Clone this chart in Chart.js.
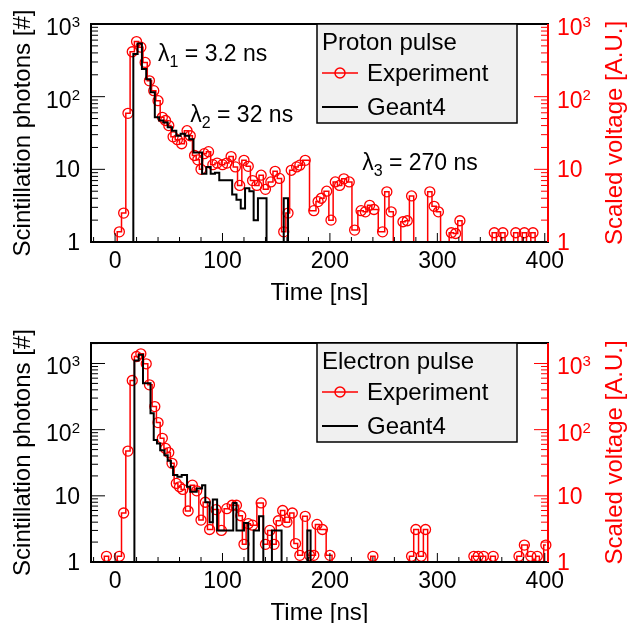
<!DOCTYPE html>
<html>
<head>
<meta charset="utf-8">
<title>Scintillation pulses</title>
<script src="https://cdn.jsdelivr.net/npm/chart.js@4.4.1/dist/chart.umd.min.js"></script>
<style>
  body { margin: 0; background: #fff; }
  .pane { position: absolute; left: 0; width: 630px; }
</style>
</head>
<body>
<div class="pane" style="top:0;height:311px"><canvas id="proton"></canvas></div>
<div class="pane" style="top:311px;height:312px"><canvas id="electron"></canvas></div>
<script>
// values, 0 = empty bin (below the log axis)
var protonExpTime = [-4, 0, 4, 8, 12, 16, 20, 24, 28, 32, 36, 40, 44, 47, 50, 54, 58, 62, 67, 70,
  74, 77, 80, 83, 87, 91, 95, 100, 104, 108, 112, 116, 120, 124, 128, 132, 136, 140, 145, 149,
  153, 157, 161, 164, 169, 172, 177, 185, 189, 192, 197, 201, 205, 209, 213, 218, 223, 229, 233, 237,
  241, 249, 253, 257, 261, 264, 268, 272, 276, 280, 289, 293, 297, 301, 305, 309, 313, 317, 321, 325,
  349, 353, 357, 361, 365, 369, 373, 377, 381, 385, 389, 393, 400];
var protonExpVal = [0, 0, 1.38, 2.5, 59, 415, 573, 480, 296, 165, 121, 88, 52, 47, 40, 28, 25.6, 22.5, 34, 29,
  15.5, 13.5, 10, 16.4, 17.5, 11.6, 12.2, 11.6, 12.2, 15, 10.8, 6, 13.3, 11, 7, 6, 8.3, 5.3, 6.7, 9.4,
  7.5, 1.38, 2.5, 9.7, 10.8, 11.4, 13.3, 2.7, 3.6, 4, 5, 2, 6.7, 6, 7.4, 6.7, 1.46, 2.7, 2.6, 3.2,
  2.8, 1.38, 4.9, 2.6, 0, 0, 1.9, 1.96, 4.3, 0, 0, 4.9, 3.1, 2.6, 0, 0, 1.34, 1.31, 1.96, 0,
  0, 1.34, 0, 1.34, 0, 0, 1.34, 0, 1.34, 0, 1.34, 0, 0];

// Geant4 histogram: bin lower edges and contents
var protonSimEdge = [13, 17, 21, 25, 29, 33, 37, 41, 45, 49, 53, 57, 61, 65, 69, 73, 77, 81, 85, 89,
  93, 97, 101, 105, 109, 113, 117, 121, 125, 129, 133, 137, 141, 157, 161, 165];
var protonSimVal = [0, 385, 537, 240, 174, 115, 52, 47, 44, 38, 34, 29, 31, 29, 26, 17, 17, 8.7, 10.8, 8.7,
  9, 7.1, 7.1, 7.1, 4.5, 3.8, 2.9, 5.5, 5, 2, 4, 4, 0, 4, 0, 0];

var electronExpTime = [-12, -8, -4, 0, 4, 8, 12, 16, 20, 24, 29, 32, 37, 40, 44, 47, 50, 53, 57, 60,
  63, 68, 72, 76, 80, 84, 88, 94, 99, 104, 109, 113, 117, 120, 124, 128, 136, 140, 144, 148,
  152, 156, 160, 165, 168, 172, 177, 181, 185, 188, 193, 200, 204, 236, 240, 244, 272, 276, 280, 285,
  289, 293, 330, 334, 338, 343, 347, 352, 356, 372, 376, 381, 387, 390, 393, 397, 401];
var electronExpVal = [0, 1.22, 0, 0, 1.22, 5.5, 47.5, 553, 1276, 1400, 990, 476, 223, 128, 74, 52, 45, 31, 15.4, 13.7,
  12.5, 5.9, 14.5, 11.9, 4.3, 8, 3.1, 6.2, 3, 6.4, 7.2, 7.2, 5, 1.85, 3.8, 3.6, 7.8, 1.85, 3, 1.85,
  4.2, 6, 4, 5.5, 1.9, 1.26, 4.9, 1.26, 1.26, 3.7, 3.1, 1.26, 0, 0, 1.22, 0, 0, 1.22, 3.1, 1.22,
  3.1, 0, 0, 1.22, 1.22, 1.22, 0, 1.22, 0, 0, 1.22, 1.8, 1.22, 0, 1.22, 0, 1.8];

var electronSimEdge = [14, 18, 22, 26, 33, 36, 39, 42, 46, 49, 52, 54, 58, 62, 67, 70, 76, 81, 84, 88,
  91, 95, 110, 113, 120, 124, 129, 134, 138, 146, 155, 179, 182, 190];
var electronSimVal = [0, 1110, 1350, 504, 177, 70, 62, 49, 41, 34, 27.5, 20.6, 19.4, 20.6, 13.7, 11.5, 12.9, 14.5, 8, 4,
  8.8, 3, 7.8, 3, 3.9, 0, 3, 4.9, 0, 3, 0, 3, 0, 0];

var timeTicks = [0, 100, 200, 300, 400];
var decadeTicks = [1, 10, 100, 1000];

var FONT = '"Liberation Sans", Arial, sans-serif';
var RED = '#ff0000';

function toPoints(times, values) {
  return times.map(function (t, i) {
    return { x: t, y: values[i] > 0 ? values[i] : 0.1 };
  });
}

function seg(ctx, x1, y1, x2, y2) {
  ctx.beginPath();
  ctx.moveTo(x1, y1);
  ctx.lineTo(x2, y2);
  ctx.stroke();
}

// "1", "10", "10^n" tick labels
function powLabel(ctx, v, x, y, align) {
  var e = Math.round(Math.log10(v));
  ctx.textBaseline = 'alphabetic';
  ctx.font = '23px ' + FONT;
  if (e <= 1) {
    ctx.textAlign = align;
    ctx.fillText(String(v), x, y + 8);
    return;
  }
  var wb = ctx.measureText('10').width;
  ctx.font = '15px ' + FONT;
  var ws = ctx.measureText(String(e)).width;
  var x0 = align === 'right' ? x - wb - ws : x;
  ctx.textAlign = 'left';
  ctx.font = '23px ' + FONT;
  ctx.fillText('10', x0, y + 11);
  ctx.font = '15px ' + FONT;
  ctx.fillText(String(e), x0 + wb, y + 3);
}

function decor(cfg) {
  return {
    id: 'decor',
    afterDatasetsDraw: function (chart) {
      var ctx = chart.ctx, a = chart.chartArea;
      var sx = chart.scales.x, sy = chart.scales.y;
      ctx.save();

      // tick marks, drawn inside the frame
      ctx.lineWidth = 1;
      ctx.strokeStyle = '#000';
      for (var t = -20; t <= 400; t += 20) {
        var px = sx.getPixelForValue(t);
        if (px <= a.left || px >= a.right) continue;
        seg(ctx, px, a.bottom, px, a.bottom - (t % 100 === 0 ? 9 : 5));
      }
      for (var d = 1; d <= 1000; d *= 10) {
        for (var m = 1; m < 10; m++) {
          var v = d * m;
          if (v > sy.max) continue;
          var py = sy.getPixelForValue(v);
          var len = m === 1 ? 14 : 7;
          ctx.strokeStyle = '#000';
          seg(ctx, a.left, py, a.left + len, py);
          ctx.strokeStyle = RED;
          seg(ctx, a.right, py, a.right - len, py);
        }
      }

      // frame
      ctx.lineWidth = 2;
      ctx.strokeStyle = '#000';
      ctx.strokeRect(a.left, a.top, a.right - a.left, a.bottom - a.top);
      ctx.strokeStyle = RED;
      seg(ctx, a.right, a.top, a.right, a.bottom);

      // tick labels
      ctx.fillStyle = '#000';
      decadeTicks.forEach(function (v) {
        if (v <= sy.max) powLabel(ctx, v, a.left - 11, sy.getPixelForValue(v), 'right');
      });
      ctx.fillStyle = RED;
      decadeTicks.forEach(function (v) {
        if (v <= sy.max) powLabel(ctx, v, a.right + 9, sy.getPixelForValue(v), 'left');
      });
      ctx.fillStyle = '#000';
      ctx.font = '23px ' + FONT;
      ctx.textAlign = 'center';
      timeTicks.forEach(function (t) {
        ctx.fillText(String(t), sx.getPixelForValue(t), a.bottom + 26);
      });

      // axis titles
      ctx.font = '24px ' + FONT;
      ctx.fillText('Time [ns]', (a.left + a.right) / 2, a.bottom + 58);
      var cy = (a.top + a.bottom) / 2;
      ctx.save();
      ctx.translate(30, cy);
      ctx.rotate(-Math.PI / 2);
      ctx.fillText('Scintillation photons [#]', 0, 0);
      ctx.restore();
      ctx.save();
      ctx.fillStyle = RED;
      ctx.translate(622, cy);
      ctx.rotate(-Math.PI / 2);
      ctx.fillText('Scaled voltage [A.U.]', 0, 0);
      ctx.restore();

      // decay-constant notes
      ctx.textAlign = 'left';
      (cfg.notes || []).forEach(function (n) {
        var x = sx.getPixelForValue(n.t), y = sy.getPixelForValue(n.v);
        ctx.font = '23px ' + FONT;
        ctx.fillText('\u03bb', x, y);
        x += ctx.measureText('\u03bb').width;
        ctx.font = '16px ' + FONT;
        ctx.fillText(n.sub, x, y + 6);
        x += ctx.measureText(n.sub).width;
        ctx.font = '23px ' + FONT;
        ctx.fillText(n.text, x, y);
      });

      // legend box
      var lx = 317, lw = 200, lt = a.top, lh = 99;
      ctx.fillStyle = '#f0f0f0';
      ctx.fillRect(lx, lt, lw, lh);
      ctx.lineWidth = 1.5;
      ctx.strokeStyle = '#000';
      ctx.strokeRect(lx, lt, lw, lh);
      ctx.fillStyle = '#000';
      ctx.font = '24px ' + FONT;
      ctx.fillText(cfg.title, lx + 5, lt + 26);
      ctx.fillText('Experiment', lx + 50, lt + 57);
      ctx.fillText('Geant4', lx + 50, lt + 91);
      ctx.strokeStyle = RED;
      ctx.lineWidth = 1.5;
      seg(ctx, lx + 5, lt + 49, lx + 41, lt + 49);
      ctx.beginPath();
      ctx.arc(lx + 23, lt + 49, 5, 0, Math.PI * 2);
      ctx.stroke();
      ctx.strokeStyle = '#000';
      ctx.lineWidth = 2;
      seg(ctx, lx + 5, lt + 83, lx + 41, lt + 83);

      ctx.restore();
    }
  };
}

function makeChart(id, cfg) {
  return new Chart(document.getElementById(id), {
    type: 'line',
    data: {
      datasets: [
        {
          label: 'Geant4',
          data: toPoints(cfg.simEdge, cfg.simVal),
          order: 0,
          borderColor: '#000',
          borderWidth: 2,
          stepped: 'before',
          pointRadius: 0,
          clip: 0
        },
        {
          label: 'Experiment',
          data: toPoints(cfg.expTime, cfg.expVal),
          order: 1,
          borderColor: RED,
          borderWidth: 1.5,
          stepped: 'middle',
          pointRadius: function (c) { return c.raw && c.raw.y >= 1 ? 5 : 0; },
          pointBorderColor: RED,
          pointBackgroundColor: 'rgba(0,0,0,0)',
          pointBorderWidth: 1.3,
          clip: { left: 0, top: 0, right: 8, bottom: 0 }
        }
      ]
    },
    options: {
      responsive: true,
      maintainAspectRatio: false,
      animation: false,
      events: [],
      layout: { padding: { top: cfg.padTop, left: 0, right: 0, bottom: 0 } },
      plugins: { legend: { display: false }, tooltip: { enabled: false } },
      scales: {
        x: {
          type: 'linear', min: -22.4, max: 403,
          grid: { display: false }, border: { display: false }, ticks: { display: false },
          afterFit: function (s) { s.height = cfg.xHeight; }
        },
        y: {
          type: 'logarithmic', position: 'left', min: 1, max: cfg.yMax,
          grid: { display: false }, border: { display: false }, ticks: { display: false },
          afterFit: function (s) { s.width = 91; }
        },
        y2: {
          type: 'logarithmic', position: 'right', min: 1, max: cfg.yMax,
          grid: { display: false }, border: { display: false }, ticks: { display: false },
          afterFit: function (s) { s.width = 82; }
        }
      }
    },
    plugins: [decor(cfg)]
  });
}

makeChart('proton', {
  expTime: protonExpTime, expVal: protonExpVal,
  simEdge: protonSimEdge, simVal: protonSimVal,
  yMax: 1000, padTop: 24, xHeight: 69,
  title: 'Proton pulse',
  notes: [
    { t: 40, v: 310, sub: '1', text: ' = 3.2 ns' },
    { t: 70, v: 44.5, sub: '2', text: ' = 32 ns' },
    { t: 230, v: 9.7, sub: '3', text: ' = 270 ns' }
  ]
});

makeChart('electron', {
  expTime: electronExpTime, expVal: electronExpVal,
  simEdge: electronSimEdge, simVal: electronSimVal,
  yMax: 2040, padTop: 32, xHeight: 61,
  title: 'Electron pulse',
  notes: []
});
</script>
</body>
</html>
